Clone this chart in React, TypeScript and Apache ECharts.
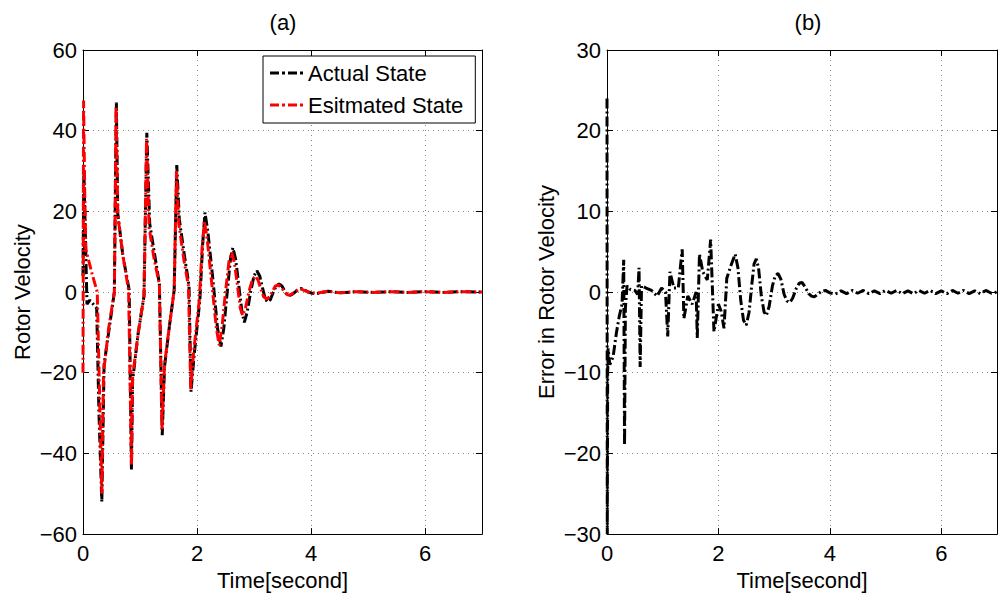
import React, { useEffect, useRef } from 'react';
import * as echarts from 'echarts';

// ---------- data ----------
const actualT = [0, 0.015, 0.04, 0.07, 0.12, 0.18, 0.24, 0.28, 0.33, 0.37, 0.46, 0.55, 0.585, 0.61, 0.70, 0.81, 0.85, 0.87, 0.97, 1.07, 1.12, 1.17, 1.26, 1.34, 1.39, 1.43, 1.52, 1.60, 1.645, 1.69, 1.78, 1.86, 1.895, 1.95, 2.05, 2.10, 2.14, 2.19, 2.28, 2.36, 2.42, 2.47, 2.53, 2.59, 2.63, 2.68, 2.73, 2.79, 2.83, 2.88, 2.94, 3.0, 3.05, 3.10, 3.15, 3.20, 3.24, 3.29, 3.34, 3.39, 3.44, 3.49, 3.53, 3.58, 3.62, 3.67, 3.72, 3.78, 3.83, 3.89, 3.95, 4.02, 4.1, 4.3, 4.5, 4.8, 5.1, 5.4, 5.7, 6.0, 6.3, 6.6, 7.0];
const actualV = [4, 30, 15, -3, -2, -3, -4, -30, -52, -18, -9, 0, 47, 19.5, 9, 0.5, -44, -22, -10, -1, 39.5, 17, 9, 2, -35.5, -18.5, -8, 0.5, 31.5, 18, 9, 1.6, -24.7, -15.6, -2, 12, 19.7, 15, 3, -9, -13.5, -9, 0, 8.5, 11, 8, 2, -5, -7.5, -5, 0, 4, 5.3, 4, 1, -1.8, -2.5, -1.8, 0, 1.5, 2, 1.5, 0.5, -0.6, -0.9, -0.6, 0, 0.7, 0.9, 0.5, 0, -0.3, -0.4, 0.2, -0.2, 0.1, -0.1, 0.1, -0.1, 0.1, -0.1, 0.1, 0];

const estT = [0, 0.01, 0.03, 0.05, 0.15, 0.25, 0.29, 0.33, 0.36, 0.45, 0.55, 0.58, 0.61, 0.70, 0.80, 0.85, 0.87, 0.97, 1.07, 1.115, 1.16, 1.25, 1.34, 1.385, 1.43, 1.52, 1.60, 1.64, 1.68, 1.77, 1.85, 1.89, 1.94, 2.04, 2.09, 2.13, 2.18, 2.26, 2.34, 2.39, 2.44, 2.50, 2.56, 2.61, 2.66, 2.71, 2.76, 2.80, 2.85, 2.91, 2.97, 3.02, 3.07, 3.12, 3.17, 3.22, 3.27, 3.32, 3.37, 3.42, 3.47, 3.52, 3.57, 3.61, 3.66, 3.71, 3.77, 3.82, 3.88, 3.95, 4.1, 4.3, 4.5, 4.8, 5.1, 5.4, 5.7, 6.0, 6.3, 6.6, 7.0];
const estV = [-20, 47.5, 25, 10.6, 5, 0, -25, -50, -20, -9, 0, 46, 19, 9, 0.5, -43, -21, -10, -1, 38, 16, 8, 2, -34, -18, -8, 0.5, 30, 17, 8, 1.5, -24, -15, -2, 11, 17.5, 13, 2, -9, -13.2, -8.5, 0, 7.5, 9.8, 7, 1.5, -4, -5.8, -4, 0, 3, 4, 3, 0.8, -1.2, -1.7, -1.2, 0, 1.4, 1.8, 1.3, 0.4, -0.5, -0.8, -0.5, 0, 0.6, 0.8, 0.4, 0, -0.3, 0.2, -0.2, 0.1, -0.1, 0.1, -0.1, 0.1, -0.1, 0.1, 0];

const errT = [0, 0.005, 0.012, 0.02, 0.05, 0.11, 0.17, 0.22, 0.27, 0.30, 0.315, 0.33, 0.36, 0.42, 0.5, 0.55, 0.575, 0.595, 0.62, 0.7, 0.8, 0.9, 0.98, 1.05, 1.09, 1.13, 1.2, 1.28, 1.35, 1.38, 1.45, 1.53, 1.6, 1.62, 1.66, 1.72, 1.8, 1.86, 1.92, 2.0, 2.05, 2.1, 2.15, 2.22, 2.3, 2.35, 2.4, 2.45, 2.5, 2.55, 2.6, 2.64, 2.68, 2.72, 2.77, 2.82, 2.86, 2.91, 2.97, 3.02, 3.07, 3.12, 3.18, 3.23, 3.28, 3.33, 3.4, 3.45, 3.5, 3.56, 3.62, 3.67, 3.72, 3.78, 3.85, 3.92, 4.0, 4.1, 4.2, 4.3, 4.4, 4.5, 4.6, 4.7, 4.8, 4.9, 5.0, 5.1, 5.2, 5.3, 5.4, 5.5, 5.6, 5.7, 5.8, 5.9, 6.0, 6.1, 6.2, 6.3, 6.4, 6.5, 6.6, 6.7, 6.8, 6.9, 7.0];
const errV = [24, -30, -10, -7, -9, -8, -5, -3, -1.5, 4, -19, -2, 0.8, 0.3, 0.2, -0.3, 3, -9.3, 0.8, 0.5, 0.2, -0.5, 0.5, 0, -5.5, 2.5, 0.5, 0.5, 5.3, -3.3, -0.5, -1.5, 0, -5.7, 4.7, 2.5, 1.5, 6.5, -4.9, -1.5, -2.4, -4.5, 1.7, 3.2, 4.7, 3, -1, -3.5, -4.1, -2.5, 1, 3.5, 4.1, 3, -0.5, -2.5, -2.9, -1.8, 0.8, 2, 2.3, 1.6, -0.3, -1.1, -1.3, -0.8, 0.5, 1.1, 1.2, 0.6, -0.2, -0.5, -0.6, -0.3, 0.1, 0.2, -0.1, -0.25, 0.15, -0.2, 0.2, -0.15, 0.2, -0.2, 0.15, -0.2, 0.2, -0.15, 0.2, -0.2, 0.15, -0.2, 0.2, -0.15, 0.2, -0.2, 0.15, -0.2, 0.2, -0.15, 0.2, -0.2, 0.15, -0.2, 0.2, -0.15, 0];

const seriesNames = ['Actual State', 'Esitmated State'];
const panelTitles = ['(a)', '(b)'];
const xName = 'Time[second]';
const yNames = ['Rotor Velocity', 'Error in Rotor Velocity'];

const FONT = 'Liberation Sans, Arial, Helvetica, sans-serif';
const DASH = [10, 3, 2, 3];
const LEGEND_ICON = 'path://M0,0h9v2h-9z M12,0h3v2h-3z M18,0h9v2h-9z M30,0h3v2h-3z';

const fmtNum = (v: number) => (v < 0 ? '\u2212' + Math.abs(v) : String(v));

export default function App() {
  const ref = useRef<HTMLDivElement>(null);
  useEffect(() => {
    const chart = echarts.init(ref.current as HTMLDivElement, null, { renderer: 'svg' });

    const axisLine = { show: true, onZero: false, lineStyle: { color: '#000', width: 1 } };
    const axisTick = { show: true, inside: true, length: 6, lineStyle: { color: '#000', width: 1 } };
    const splitLine = { show: true, lineStyle: { type: [1, 4], color: '#888', width: 1 } };
    const labelStyle = { color: '#000', fontSize: 22, fontFamily: FONT };

    const makeX = (gi: number, main: boolean) => ({
      type: 'value',
      gridIndex: gi,
      position: main ? 'bottom' : 'top',
      min: 0,
      max: 7,
      interval: 2,
      axisLine,
      axisTick,
      axisLabel: {
        show: main,
        margin: 8,
        ...labelStyle,
        formatter: (v: number) => (v === 7 ? '' : fmtNum(v)),
      },
      splitLine: { ...splitLine, show: main },
      name: main ? xName : '',
      nameLocation: 'middle',
      nameGap: 31,
      nameTextStyle: labelStyle,
    });

    const makeY = (gi: number, main: boolean, lim: number, step: number, name: string) => ({
      type: 'value',
      gridIndex: gi,
      position: main ? 'left' : 'right',
      min: -lim,
      max: lim,
      interval: step,
      axisLine,
      axisTick,
      axisLabel: { show: main, margin: 6, ...labelStyle, formatter: fmtNum },
      splitLine: { ...splitLine, show: main },
      name: main ? name : '',
      nameLocation: 'middle',
      nameGap: 50,
      nameTextStyle: labelStyle,
    });

    const pairs = (ts: number[], vs: number[]) => ts.map((t, i) => [t, vs[i]]);

    chart.setOption({
      animation: false,
      backgroundColor: '#fff',
      grid: [
        { left: 83, top: 50, width: 399, height: 487 },
        { left: 607, top: 50, width: 401, height: 487 },
      ],
      xAxis: [makeX(0, true), makeX(0, false), makeX(1, true), makeX(1, false)],
      yAxis: [
        makeY(0, true, 60, 20, yNames[0]),
        makeY(0, false, 60, 20, ''),
        makeY(1, true, 30, 10, yNames[1]),
        makeY(1, false, 30, 10, ''),
      ],
      legend: {
        data: seriesNames.map((n) => ({ name: n, icon: LEGEND_ICON })),
        orient: 'vertical',
        left: 263,
        top: 56,
        itemWidth: 33,
        itemHeight: 3,
        itemGap: 10,
        symbolKeepAspect: false,
        padding: [6, 12, 7, 7],
        borderColor: '#000',
        borderWidth: 1,
        borderRadius: 0,
        backgroundColor: '#fff',
        textStyle: { color: '#000', fontSize: 22, fontFamily: FONT, lineHeight: 22 },
      },
      graphic: [
        { type: 'text', x: 283, y: 22, style: { text: panelTitles[0], align: 'center', verticalAlign: 'middle', fill: '#000', font: `22px ${FONT}` } },
        { type: 'text', x: 808, y: 22, style: { text: panelTitles[1], align: 'center', verticalAlign: 'middle', fill: '#000', font: `22px ${FONT}` } },
      ],
      series: [
        {
          name: seriesNames[0],
          type: 'line',
          xAxisIndex: 0,
          yAxisIndex: 0,
          symbol: 'none',
          showSymbol: false,
          data: pairs(actualT, actualV),
          itemStyle: { color: '#000' },
          lineStyle: { color: '#000', width: 3, type: DASH },
        },
        {
          name: seriesNames[1],
          type: 'line',
          xAxisIndex: 0,
          yAxisIndex: 0,
          symbol: 'none',
          showSymbol: false,
          data: pairs(estT, estV),
          itemStyle: { color: '#ff0000' },
          lineStyle: { color: '#ff0000', width: 3, type: DASH },
        },
        {
          name: 'Error',
          type: 'line',
          xAxisIndex: 2,
          yAxisIndex: 2,
          symbol: 'none',
          showSymbol: false,
          data: pairs(errT, errV),
          itemStyle: { color: '#000' },
          lineStyle: { color: '#000', width: 3, type: DASH },
        },
      ],
    });

    return () => chart.dispose();
  }, []);

  return (
    <div
      ref={ref}
      style={{ position: 'absolute', left: 0, top: 0, width: 1000, height: 596, background: '#fff' }}
    />
  );
}
